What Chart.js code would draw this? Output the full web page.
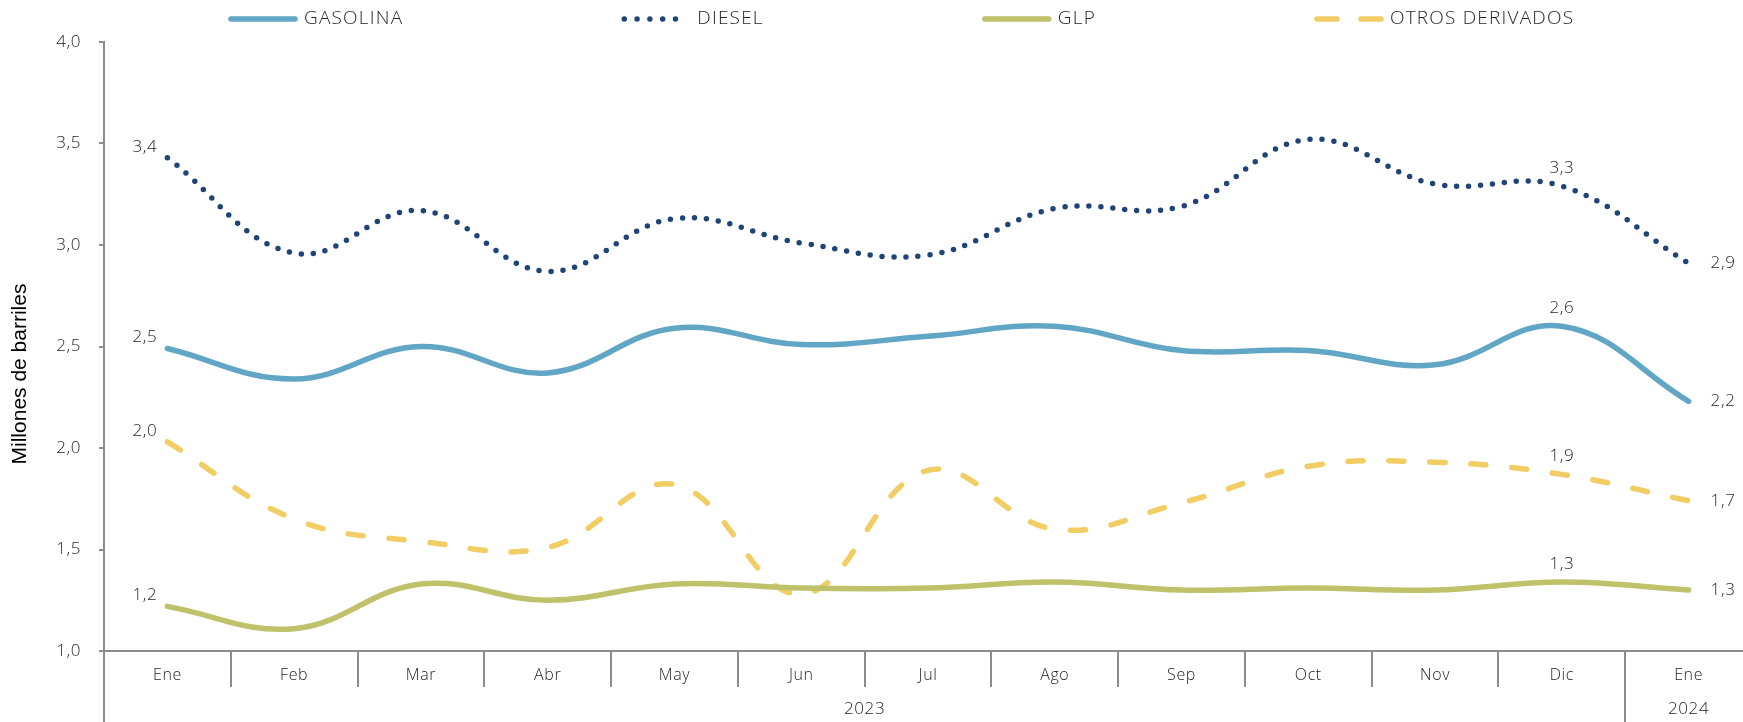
<!DOCTYPE html>
<html>
<head>
<meta charset="utf-8">
<script src="https://cdn.jsdelivr.net/npm/chart.js@4.4.1/dist/chart.umd.min.js"></script>
<style>
  html, body { margin: 0; padding: 0; background: #fff; overflow: hidden; }
  #wrap { width: 1752px; height: 722px; }
</style>
</head>
<body>
<div id="wrap"><canvas id="derivChart"></canvas></div>
<script>
// months shown on the axis, grouped by year below
const months = ['Ene', 'Feb', 'Mar', 'Abr', 'May', 'Jun', 'Jul', 'Ago', 'Sep', 'Oct', 'Nov', 'Dic', 'Ene'];
const years = ['2023', '2024'];
const yearSpans = [[0, 11], [12, 12]];  // first and last month index of each year

// millones de barriles
const gasolina = [2.49, 2.34, 2.50, 2.37, 2.59, 2.51, 2.55, 2.60, 2.48, 2.48, 2.41, 2.60, 2.23];
const diesel   = [3.43, 2.96, 3.17, 2.87, 3.13, 3.01, 2.95, 3.18, 3.19, 3.52, 3.30, 3.29, 2.91];
const glp      = [1.22, 1.11, 1.33, 1.25, 1.33, 1.31, 1.31, 1.34, 1.30, 1.31, 1.30, 1.34, 1.30];
const otros    = [2.03, 1.65, 1.54, 1.51, 1.82, 1.28, 1.89, 1.60, 1.73, 1.91, 1.93, 1.87, 1.74];

const yMin = 1.0, yMax = 4.0, yStep = 0.5;
const yTitle = 'Millones de barriles';
const labelIdx = [0, 11, 12];  // points that carry a value label

const axisGray = '#8c8c8c';
const textGray = '#262626';
const font = '"Open Sans"';

const fmt = v => v.toFixed(1).replace('.', ',');

// year axis: separators at the group edges, labels at the group centres
const yearEdges = [yearSpans[0][0] - 0.5].concat(yearSpans.map(s => s[1] + 0.5));
const yearCenters = yearSpans.map(s => (s[0] + s[1]) / 2);

// the original font is a wide geometric one, open the letters up a bit
const wideText = {
  id: 'wideText',
  beforeDraw(chart) { chart.ctx.letterSpacing = '0.6px'; }
};

// value labels on first, December and last point
const valueLabels = {
  id: 'valueLabels',
  afterDatasetsDraw(chart) {
    const ctx = chart.ctx;
    ctx.save();
    ctx.font = '300 17px ' + font;
    ctx.fillStyle = textGray;
    ctx.textBaseline = 'middle';
    chart.data.datasets.forEach((ds, di) => {
      const meta = chart.getDatasetMeta(di);
      labelIdx.forEach(i => {
        const pt = meta.data[i];
        const txt = fmt(ds.data[i]);
        if (i === 0) {
          ctx.textAlign = 'right';
          ctx.fillText(txt, pt.x - 10, pt.y - 11);
        } else if (i === months.length - 1) {
          ctx.textAlign = 'left';
          ctx.fillText(txt, pt.x + 22, pt.y);
        } else {
          ctx.textAlign = 'center';
          ctx.fillText(txt, pt.x, pt.y - 18);
        }
      });
    });
    ctx.restore();
  }
};

// legend drawn with the real line styles of each dataset, and the y title
const lineLegend = {
  id: 'lineLegend',
  afterDraw(chart) {
    const ctx = chart.ctx;
    const area = chart.chartArea;
    ctx.save();
    ctx.font = '300 19px ' + font;
    ctx.letterSpacing = '1.2px';
    ctx.textBaseline = 'middle';
    ctx.textAlign = 'left';
    let x = area.left + 124;
    const y = 19;
    chart.data.datasets.forEach(ds => {
      ctx.beginPath();
      ctx.strokeStyle = ds.borderColor;
      ctx.lineWidth = ds.borderWidth;
      ctx.lineCap = 'round';
      ctx.setLineDash(ds.legendDash || []);
      ctx.moveTo(x + 3, y);
      ctx.lineTo(x + 67, y);
      ctx.stroke();
      ctx.setLineDash([]);
      ctx.fillStyle = textGray;
      ctx.fillText(ds.label, x + 76, y);
      x += 76 + ctx.measureText(ds.label).width + 218;
    });

    // y axis title, centred between plot top and page bottom like the original
    ctx.letterSpacing = '0px';
    ctx.translate(20, (area.top + chart.height) / 2 - 8);
    ctx.rotate(-Math.PI / 2);
    ctx.textAlign = 'center';
    ctx.textBaseline = 'middle';
    ctx.fillStyle = '#000';
    ctx.font = '400 21px "Liberation Sans"';
    ctx.fillText(yTitle, 0, 0);
    ctx.restore();
  }
};

const ctx = document.getElementById('derivChart').getContext('2d');
new Chart(ctx, {
  type: 'line',
  data: {
    labels: months,
    datasets: [
      { label: 'GASOLINA', data: gasolina, borderColor: '#62a6c6', borderWidth: 5.5, borderCapStyle: 'round' },
      { label: 'DIESEL', data: diesel, borderColor: '#1f4477', borderWidth: 5.5, borderCapStyle: 'round',
        borderDash: [0, 12], legendDash: [0, 12.8] },
      { label: 'GLP', data: glp, borderColor: '#bfc26a', borderWidth: 5.5, borderCapStyle: 'round' },
      { label: 'OTROS DERIVADOS', data: otros, borderColor: '#f2cd63', borderWidth: 5.5, borderCapStyle: 'round',
        borderDash: [15, 26], legendDash: [20, 24] }
    ]
  },
  options: {
    responsive: true,
    maintainAspectRatio: false,
    animation: false,
    layout: { padding: { top: 42, left: 0, right: 0, bottom: 0 } },
    elements: {
      point: { radius: 0, hoverRadius: 0 },
      line: { tension: 0.4, fill: false }
    },
    plugins: {
      legend: { display: false },
      tooltip: { enabled: false }
    },
    scales: {
      y: {
        min: yMin,
        max: yMax,
        afterFit: s => { s.width = 104; },
        ticks: {
          stepSize: yStep,
          padding: 18,
          color: textGray,
          font: { family: font, size: 17, weight: '300' },
          callback: v => fmt(v)
        },
        grid: { drawOnChartArea: false, drawTicks: true, tickLength: 5, color: axisGray, lineWidth: 2 },
        border: { display: true, color: axisGray, width: 2 }
      },
      x: {
        offset: true,
        weight: 0,
        afterFit: s => { s.height = 36; },
        ticks: {
          autoSkip: false,
          maxRotation: 0,
          padding: -21,
          color: textGray,
          font: { family: font, size: 16, weight: '300' }
        },
        grid: { offset: true, drawOnChartArea: false, tickLength: 36, color: axisGray, lineWidth: 2 },
        border: { display: true, color: axisGray, width: 2 }
      },
      years: {
        type: 'linear',
        position: 'bottom',
        weight: 1,
        min: yearEdges[0],
        max: yearEdges[yearEdges.length - 1],
        afterFit: s => { s.height = 35; },
        afterBuildTicks: s => {
          s.ticks = yearEdges.concat(yearCenters).sort((a, b) => a - b).map(v => ({ value: v }));
        },
        ticks: {
          autoSkip: false,
          maxRotation: 0,
          padding: -28,
          color: textGray,
          font: { family: font, size: 17, weight: '300' },
          callback: v => {
            const k = yearCenters.indexOf(v);
            return k >= 0 ? years[k] : '';
          }
        },
        grid: {
          drawOnChartArea: false,
          tickLength: 40,
          lineWidth: 2,
          color: c => (c.tick && yearEdges.includes(c.tick.value)) ? axisGray : 'rgba(0,0,0,0)'
        },
        border: { display: false }
      }
    }
  },
  plugins: [wideText, valueLabels, lineLegend]
});
</script>
</body>
</html>
